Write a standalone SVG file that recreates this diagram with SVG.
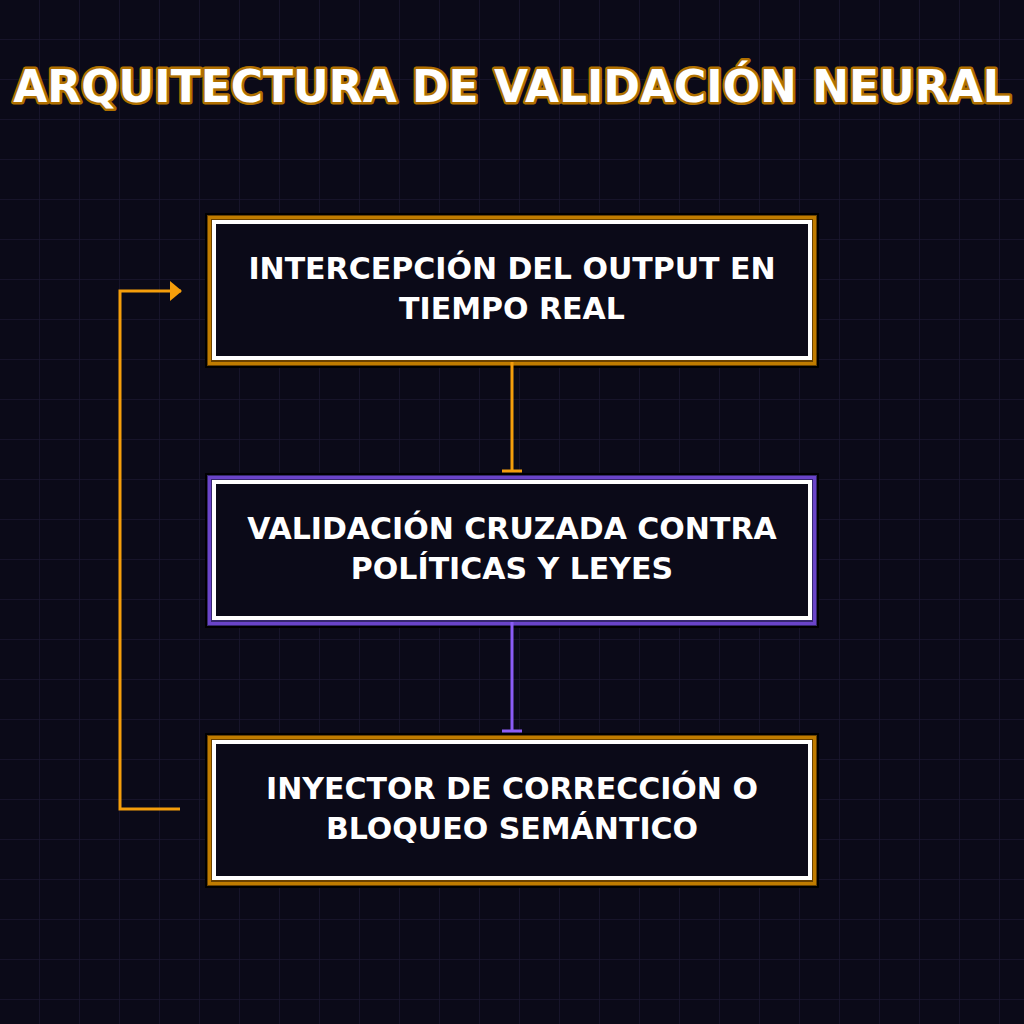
<svg xmlns="http://www.w3.org/2000/svg" width="1024" height="1024" viewBox="0 0 1024 1024">
<defs>
<pattern id="grid" width="40" height="40" patternUnits="userSpaceOnUse"><path d="M40 0V40M0 40H40" fill="none" stroke="#1a1830" stroke-width="1.5"/></pattern>
<marker id="ah" markerWidth="12" markerHeight="22" refX="11" refY="11" orient="auto" markerUnits="userSpaceOnUse"><path d="M0 1L12 11L0 21Z" fill="#f59e0b"/></marker>
</defs>
<style>
.t{font-family:"DejaVu Sans",sans-serif;font-weight:bold;fill:#fff;text-anchor:middle}
.n{font-size:30px}
.w{fill:#0b0a18;stroke:#fff;stroke-width:4}
</style>
<rect width="1024" height="1024" fill="#0b0a18"/>
<rect width="1024" height="1024" fill="url(#grid)"/>
<text class="t" x="512" y="102" font-size="44" stroke="#b07000" stroke-width="5" paint-order="stroke" stroke-linejoin="round">ARQUITECTURA DE VALIDACIÓN NEURAL</text>
<g id="n1">
<rect x="206" y="214" width="612" height="153" fill="#6a4200" stroke="#000" stroke-width="2"/>
<rect x="209.5" y="217.5" width="605" height="146" fill="none" stroke="#c07c00" stroke-width="3"/>
<rect class="w" x="214" y="222" width="596" height="136"/>
<text class="t n" x="512" y="279">INTERCEPCIÓN DEL OUTPUT EN</text>
<text class="t n" x="512" y="319">TIEMPO REAL</text>
</g>
<g id="n2">
<rect x="206" y="474" width="612" height="153" fill="#36286e" stroke="#000" stroke-width="2"/>
<rect x="209.5" y="477.5" width="605" height="146" fill="none" stroke="#6a44c8" stroke-width="3"/>
<rect class="w" x="214" y="482" width="596" height="136"/>
<text class="t n" x="512" y="539">VALIDACIÓN CRUZADA CONTRA</text>
<text class="t n" x="512" y="579">POLÍTICAS Y LEYES</text>
</g>
<g id="n3">
<rect x="206" y="734" width="612" height="153" fill="#6a4200" stroke="#000" stroke-width="2"/>
<rect x="209.5" y="737.5" width="605" height="146" fill="none" stroke="#c07c00" stroke-width="3"/>
<rect class="w" x="214" y="742" width="596" height="136"/>
<text class="t n" x="512" y="799">INYECTOR DE CORRECCIÓN O</text>
<text class="t n" x="512" y="839">BLOQUEO SEMÁNTICO</text>
</g>
<g id="connectors" fill="none" stroke-width="3">
<path d="M512 362V471M502 471H522" stroke="#f59e0b"/>
<path d="M512 622V731M502 731H522" stroke="#8b5cf6"/>
<path d="M180 809H120V291H181" stroke="#f59e0b" marker-end="url(#ah)"/>
</g>
</svg>
